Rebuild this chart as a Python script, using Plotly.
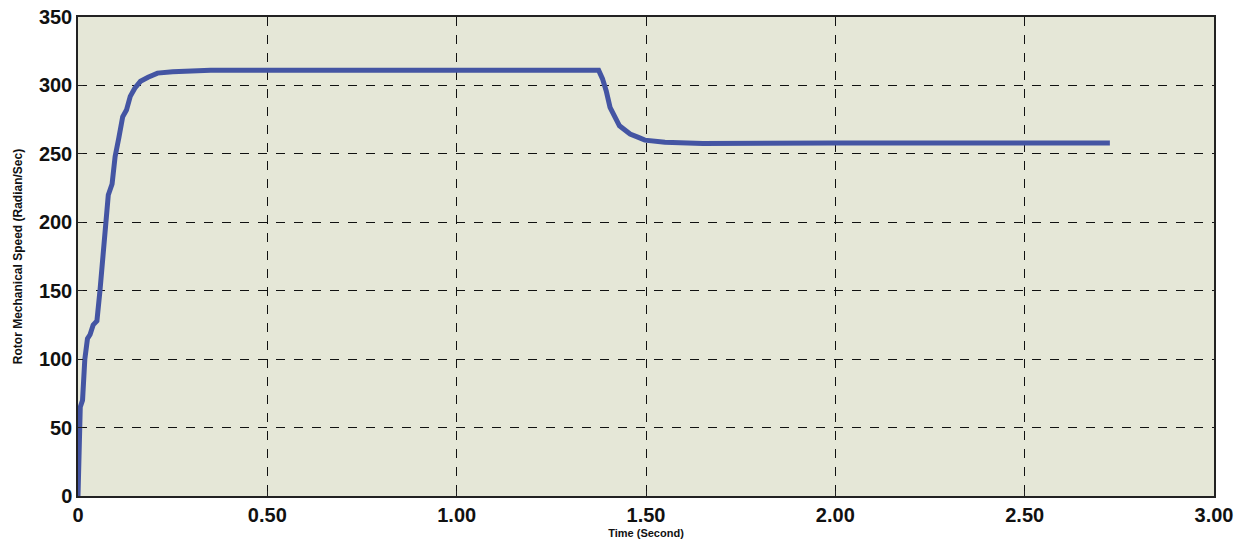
import plotly.graph_objects as go

# Rotor speed response: start-up, steady running, then load step near 1.38 s
time_s = [0.0, 0.003, 0.006, 0.012, 0.018, 0.025, 0.032, 0.040, 0.050, 0.058,
          0.066, 0.074, 0.080, 0.090, 0.098, 0.108, 0.118, 0.128, 0.138, 0.150,
          0.165, 0.185, 0.21, 0.25, 0.35, 0.6, 0.9, 1.1, 1.375,
          1.385, 1.395, 1.405, 1.43, 1.458, 1.48, 1.497, 1.55, 1.65, 2.0, 2.4, 2.725]
speed = [0, 30, 65, 70, 100, 115, 118, 125, 128, 150,
         175, 200, 220, 228, 248, 262, 277, 282, 292, 298,
         303, 306, 309, 310, 311, 311, 310.5, 311, 311,
         305, 296, 284, 270.5, 264.5, 262, 260, 258.5, 257.5, 258, 258, 258]

x_ticks = [0, 0.5, 1.0, 1.5, 2.0, 2.5, 3.0]
x_labels = ["0", "0.50", "1.00", "1.50", "2.00", "2.50", "3.00"]
y_ticks = [0, 50, 100, 150, 200, 250, 300, 350]

font_family = "Liberation Sans Narrow, Arial Narrow, Liberation Sans, Arial, sans-serif"

fig = go.Figure()
fig.add_trace(go.Scatter(
    x=time_s, y=speed, mode="lines",
    line=dict(color="#4455a3", width=5),
    showlegend=False,
))

axis_common = dict(
    showline=True, linecolor="#222222", linewidth=1.5, mirror=True,
    showgrid=True, gridcolor="#111111", griddash="dash", gridwidth=1,
    zeroline=False, ticks="inside", ticklen=5, tickcolor="#222222",
    automargin=False,
    tickfont=dict(family=font_family, size=20, color="#111111", weight="bold"),
)

fig.update_layout(
    width=1249, height=546,
    margin=dict(l=78, r=35, t=17, b=50),
    paper_bgcolor="white",
    plot_bgcolor="#e5e7d7",
    xaxis=dict(range=[0, 3.0], tickvals=x_ticks, ticktext=x_labels,
               title=dict(text="Time (Second)", standoff=5,
                          font=dict(family=font_family, size=11, color="#111111", weight="bold")),
               **axis_common),
    yaxis=dict(range=[0, 350], tickvals=y_ticks,
               title=dict(text="Rotor Mechanical Speed (Radian/Sec)", standoff=14,
                          font=dict(family=font_family, size=12, color="#111111", weight="bold")),
               **axis_common),
)

fig.write_html("out.html")
